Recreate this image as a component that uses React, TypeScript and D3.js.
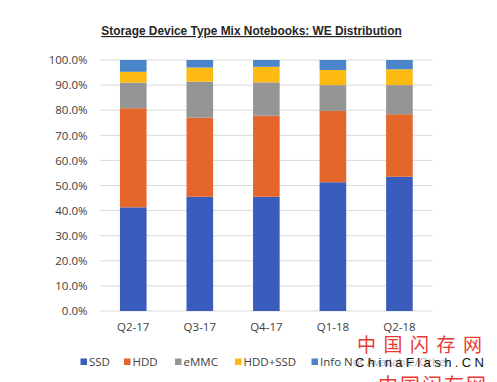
import React from "react";
import * as d3 from "d3";

const categories = ["Q2-17", "Q3-17", "Q4-17", "Q1-18", "Q2-18"];
const seriesNames = ["SSD", "HDD", "eMMC", "HDD+SSD", "Info Not Available/Other"];
const ssd = [41.3, 45.5, 45.5, 51.3, 53.5];
const hdd = [39.5, 31.5, 32.3, 28.4, 24.9];
const emmc = [10.2, 14.4, 13.3, 10.3, 11.6];
const hddSsd = [4.3, 5.6, 6.2, 6.0, 6.3];
const info = [4.7, 3.0, 2.7, 4.0, 3.7];
const colors = ["#3a5cbc", "#e4662a", "#959595", "#fdbb12", "#4a84c9"];
const yTicks = [0, 10, 20, 30, 40, 50, 60, 70, 80, 90, 100];

export default function App() {
  const W = 497, H = 382;
  const x = d3.scaleBand().domain(categories).range([100, 432.7]).paddingInner(0.6).paddingOuter(0.3);
  const y = d3.scaleLinear().domain([0, 100]).range([311, 60]);
  const series = [ssd, hdd, emmc, hddSsd, info];
  const table = categories.map((c, i) => {
    const o: any = { cat: c };
    seriesNames.forEach((s, k) => (o[s] = series[k][i]));
    return o;
  });
  const stacked = d3.stack().keys(seriesNames)(table);
  const font = "'Open Sans', sans-serif";
  const legendX = [80.5, 124, 175, 235, 311.5];
  return (
    <svg width={W} height={H} style={{ position: "absolute", left: 0, top: 0, background: "#fff" }}>
      <rect width={W} height={H} fill="#fff" />
      <text x={251.5} y={35} textAnchor="middle" fontFamily="'Liberation Sans', Arial, sans-serif" fontWeight="bold" fontSize={11.9} fill="#262626" textDecoration="underline">
        Storage Device Type Mix Notebooks: WE Distribution
      </text>
      {yTicks.map((t) => (
        <g key={t}>
          <line x1={100} x2={432.7} y1={y(t)} y2={y(t)} stroke="#d9d9d9" strokeWidth={1} />
          <text x={87.5} y={y(t) + 4.2} textAnchor="end" fontFamily={font} fontSize={11.5} fill="#404040">
            {t.toFixed(1)}%
          </text>
        </g>
      ))}
      {stacked.map((s, k) => (
        <g key={s.key} fill={colors[k]}>
          {s.map((d: any, i) => (
            <rect key={i} x={x(categories[i])} width={x.bandwidth()} y={y(d[1])} height={y(d[0]) - y(d[1])} />
          ))}
        </g>
      ))}
      {categories.map((c) => (
        <text key={c} x={(x(c) as number) + x.bandwidth() / 2} y={331} textAnchor="middle" fontFamily={font} fontSize={11.5} fill="#404040">
          {c}
        </text>
      ))}
      {seriesNames.map((s, k) => (
        <g key={s}>
          <rect x={legendX[k]} y={358.5} width={6.5} height={6.5} fill={colors[k]} />
          <text x={legendX[k] + 8.5} y={366} fontFamily={font} fontSize={11.5} fill="#404040">
            {s}
          </text>
        </g>
      ))}
      <text x={357} y={352} fontFamily="'Noto Sans CJK SC', sans-serif" fontSize={19} fill="#ea3a35" letterSpacing={7.5}>
        中国闪存网
      </text>
      <rect x={352} y={354} width={140} height={14} fill="#fff" opacity={0.6} />
      <text x={355} y={367} fontFamily="'Liberation Sans', Arial, sans-serif" fontSize={13} fill="#111" letterSpacing={3.4}>
        ChinaFlash.CN
      </text>
      <text x={378} y={393} fontFamily="'Noto Sans CJK SC', sans-serif" fontSize={20} fill="#ea3a35" letterSpacing={2}>
        中国闪存网
      </text>
    </svg>
  );
}
